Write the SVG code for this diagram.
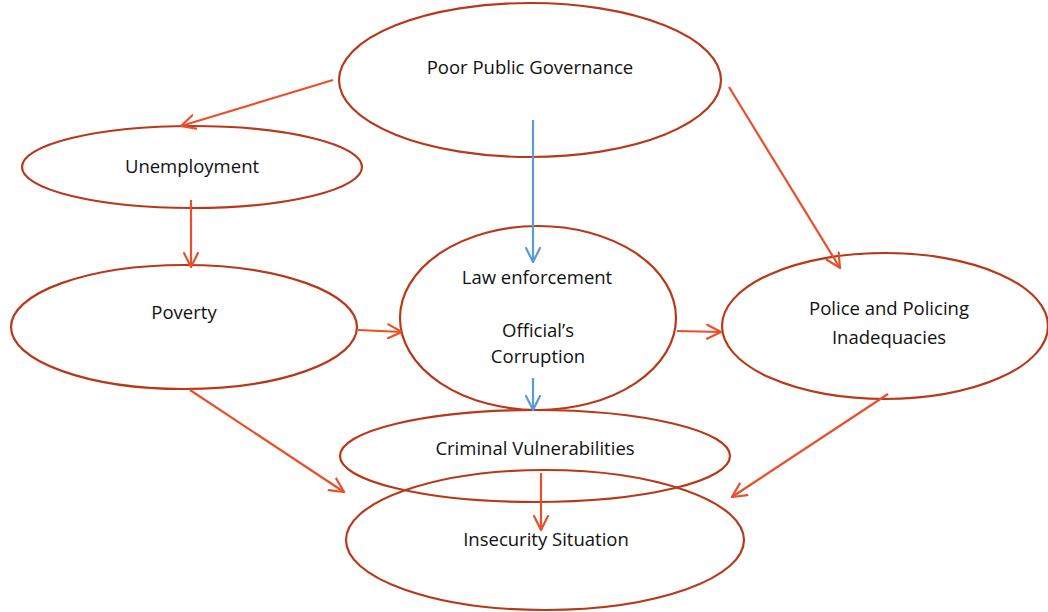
<svg xmlns="http://www.w3.org/2000/svg" width="1048" height="612" viewBox="0 0 1048 612">
  <style>
    .node ellipse { fill: none; stroke: #B8391A; stroke-width: 2.2; }
    .node text { font-family: "Open Sans", "Liberation Sans", sans-serif; font-size: 18.5px; fill: #111; text-anchor: middle; }
    .red { stroke: #E8502C; stroke-width: 2.2; fill: none; }
    .blue { stroke: #5B9BD5; stroke-width: 2.2; fill: none; }
  </style>
  <defs>
    <marker id="headRed" viewBox="0 0 16 16" refX="15" refY="8" markerWidth="16" markerHeight="16" markerUnits="userSpaceOnUse" orient="auto">
      <path d="M1,1 L15,8 L1,15" fill="none" stroke="#E8502C" stroke-width="2.2" stroke-linecap="round"/>
    </marker>
    <marker id="headBlue" viewBox="0 0 16 16" refX="15" refY="8" markerWidth="16" markerHeight="16" markerUnits="userSpaceOnUse" orient="auto">
      <path d="M1,1 L15,8 L1,15" fill="none" stroke="#5B9BD5" stroke-width="2.2" stroke-linecap="round"/>
    </marker>
  </defs>

  <g id="node-governance" class="node">
    <ellipse cx="530" cy="80" rx="191" ry="77"/>
    <text x="530" y="74">Poor Public Governance</text>
  </g>
  <g id="node-unemployment" class="node">
    <ellipse cx="192" cy="167" rx="170" ry="41"/>
    <text x="192" y="173">Unemployment</text>
  </g>
  <g id="node-poverty" class="node">
    <ellipse cx="184" cy="327" rx="173" ry="62"/>
    <text x="184" y="319">Poverty</text>
  </g>
  <g id="node-corruption" class="node">
    <ellipse cx="538" cy="318" rx="138" ry="92"/>
    <text x="537" y="284">Law enforcement</text>
    <text x="538" y="337">Official’s</text>
    <text x="538" y="363">Corruption</text>
  </g>
  <g id="node-policing" class="node">
    <ellipse cx="885" cy="326" rx="163" ry="73"/>
    <text x="889" y="315">Police and Policing</text>
    <text x="889" y="344">Inadequacies</text>
  </g>
  <g id="node-vulnerabilities" class="node">
    <ellipse cx="535" cy="456" rx="195" ry="46"/>
    <text x="535" y="455">Criminal Vulnerabilities</text>
  </g>
  <g id="node-insecurity" class="node">
    <ellipse cx="545" cy="540" rx="199" ry="70"/>
    <text x="546" y="546">Insecurity Situation</text>
  </g>

  <g id="connectors">
    <line class="red" x1="333" y1="80" x2="181" y2="126" marker-end="url(#headRed)"/>
    <line class="red" x1="191" y1="200" x2="191" y2="267" marker-end="url(#headRed)"/>
    <line class="blue" x1="533" y1="120" x2="533" y2="262" marker-end="url(#headBlue)"/>
    <line class="red" x1="729" y1="87" x2="840" y2="268" marker-end="url(#headRed)"/>
    <line class="red" x1="358" y1="330" x2="402" y2="332" marker-end="url(#headRed)"/>
    <line class="red" x1="677" y1="331" x2="721" y2="332" marker-end="url(#headRed)"/>
    <line class="blue" x1="533" y1="378" x2="533" y2="410" marker-end="url(#headBlue)"/>
    <line class="red" x1="190" y1="390" x2="344" y2="492" marker-end="url(#headRed)"/>
    <line class="red" x1="888" y1="394" x2="732" y2="497" marker-end="url(#headRed)"/>
    <line class="red" x1="541" y1="473" x2="541" y2="530" marker-end="url(#headRed)"/>
  </g>
</svg>
